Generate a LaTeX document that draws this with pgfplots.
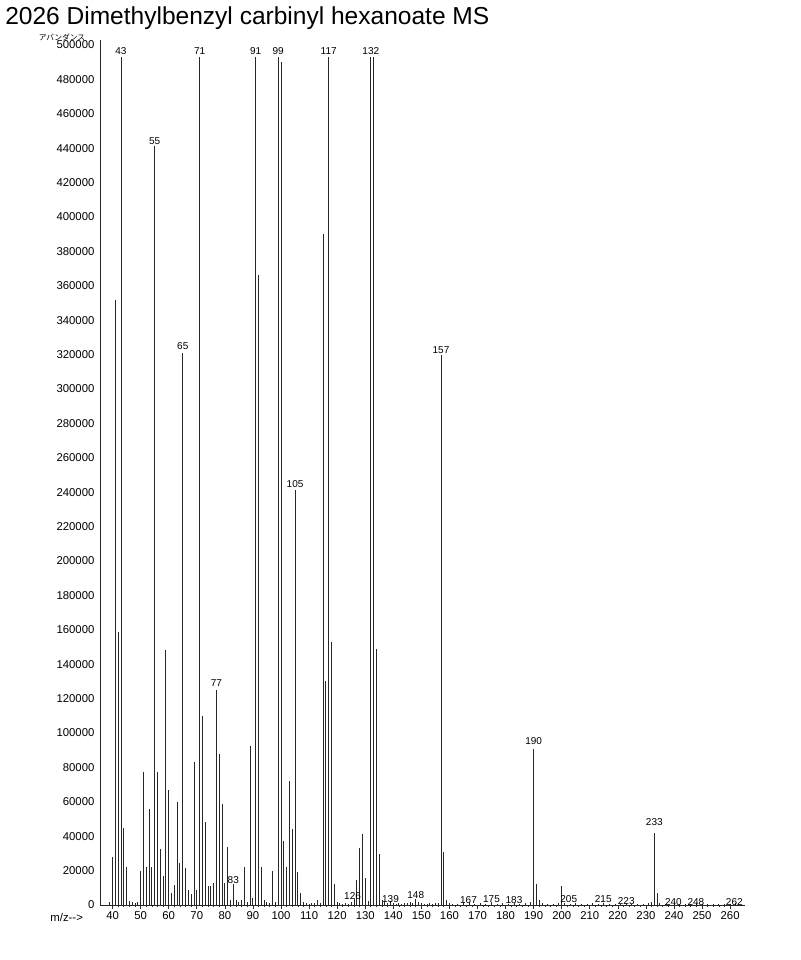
\documentclass[border=0pt]{standalone}
\usepackage{fontspec}
\setmainfont{Liberation Sans}
\newfontfamily\cjk{Noto Sans CJK JP}
\usepackage{pgfplots}
\pgfplotsset{compat=1.18}
\usepackage{pgfplotstable}

\pgfplotstableread{
m I
39 1500
40 28000
41 352000
42 159000
43 493000
44 45000
45 22000
46 2500
47 1500
48 1000
49 2000
50 20000
51 77500
52 22000
53 56000
54 22000
55 441000
56 77500
57 32500
58 17000
59 148000
60 67000
61 7000
62 11500
63 60000
64 24500
65 321000
66 21500
67 8700
68 6400
69 83000
70 9000
71 493000
72 110000
73 48000
74 11000
75 11000
76 13000
77 125000
78 88000
79 59000
80 13000
81 34000
82 3000
83 12000
84 3000
85 2000
86 3000
87 22000
88 1500
89 92500
90 4000
91 493000
92 366000
93 22000
94 3000
95 1500
96 1000
97 19500
98 2000
99 493000
100 490000
101 37000
102 22000
103 72000
104 44000
105 241000
106 19000
107 7000
108 1500
109 1000
110 800
111 1000
112 1200
113 3000
114 1000
115 390000
116 130000
117 493000
118 153000
119 12000
120 2000
121 1000
122 800
123 1000
124 800
125 1500
126 3500
127 14500
128 33000
129 41000
130 15500
131 2500
132 493000
133 493000
134 149000
135 29700
136 3000
137 1500
138 1000
139 2500
140 1000
141 800
142 1000
143 800
144 1200
145 1000
146 1500
147 1200
148 3500
149 1500
150 1000
151 800
152 800
153 1000
154 800
155 1200
156 1000
157 320000
158 31000
159 3000
160 1200
161 800
163 800
165 1000
167 1500
169 800
171 1000
173 800
175 1500
177 800
179 1000
181 800
183 1200
185 800
187 1000
189 1500
190 90700
191 12000
192 3000
193 1000
195 800
197 800
199 1200
200 11000
201 1000
203 800
205 1200
207 800
209 800
211 1000
213 800
215 1000
217 800
219 800
221 800
223 1000
225 800
227 600
229 800
231 1000
232 1500
233 42000
234 7000
235 1200
237 800
240 1000
242 600
244 800
246 600
248 1000
250 600
252 600
254 700
256 600
258 600
260 700
262 900
}\spec

\begin{document}
\begin{tikzpicture}
\useasboundingbox (0pt,0pt) rectangle (600pt,720pt);
\node[anchor=base west, inner sep=0, font=\fontsize{18.4}{22}\selectfont] at (3.75pt,701.25pt) {2026 Dimethylbenzyl carbinyl hexanoate MS};
\begin{axis}[
  at={(75pt,41.25pt)}, anchor=south west,
  width=483.75pt, height=648.75pt, scale only axis,
  xmin=35.52, xmax=265.3, ymin=0, ymax=502900,
  axis x line=bottom, axis y line=left,
  axis line style={-, line width=0.6pt, black!85},
  xtick={40,50,...,260}, minor x tick num=4,
  ytick={0,20000,...,500000},
  scaled y ticks=false,
  /pgf/number format/fixed,
  /pgf/number format/1000 sep={},
  /pgf/number format/assume math mode=true,
  yticklabel style={font=\fontsize{8.5}{10}\selectfont, inner sep=1pt},
  xticklabel style={font=\fontsize{8.5}{10}\selectfont, inner sep=1.5pt},
  tick align=outside,
  major tick length=3pt, minor tick length=1.5pt,
  ytick style={draw=none},
  xtick style={line width=0.5pt, black!80},
  clip=false,
]
\addplot[ycomb, black!85, line width=0.7pt, mark=none] table[x=m, y=I] {\spec};
\begin{scope}[every node/.style={font=\fontsize{7.5}{9}\selectfont, inner sep=0pt}]
\node at (axis cs:43,496500) {43};
\node at (axis cs:55,444000) {55};
\node at (axis cs:65,325000) {65};
\node at (axis cs:71,496500) {71};
\node at (axis cs:77,129000) {77};
\node at (axis cs:83,14500) {83};
\node at (axis cs:91,496500) {91};
\node at (axis cs:99,496500) {99};
\node at (axis cs:105,244800) {105};
\node at (axis cs:117,496500) {117};
\node at (axis cs:125.5,5200) {126};
\node at (axis cs:132,496500) {132};
\node at (axis cs:139,3500) {139};
\node at (axis cs:148,5800) {148};
\node at (axis cs:157,322700) {157};
\node at (axis cs:166.8,2900) {167};
\node at (axis cs:175,3500) {175};
\node at (axis cs:183,2900) {183};
\node at (axis cs:190,95300) {190};
\node at (axis cs:202.5,3500) {205};
\node at (axis cs:214.8,3500) {215};
\node at (axis cs:223,2300) {223};
\node at (axis cs:233,48300) {233};
\node at (axis cs:239.8,1700) {240};
\node at (axis cs:247.8,1700) {248};
\node at (axis cs:261.5,1700) {262};
\end{scope}
\end{axis}
\node[font=\fontsize{8.5}{10}\selectfont, inner sep=0] at (50pt,32.25pt) {m/z-{}-{}>};
\node[font=\cjk\fontsize{5.8}{7}\selectfont, inner sep=0] at (46.5pt,691.5pt) {アバンダンス};
\end{tikzpicture}
\end{document}
